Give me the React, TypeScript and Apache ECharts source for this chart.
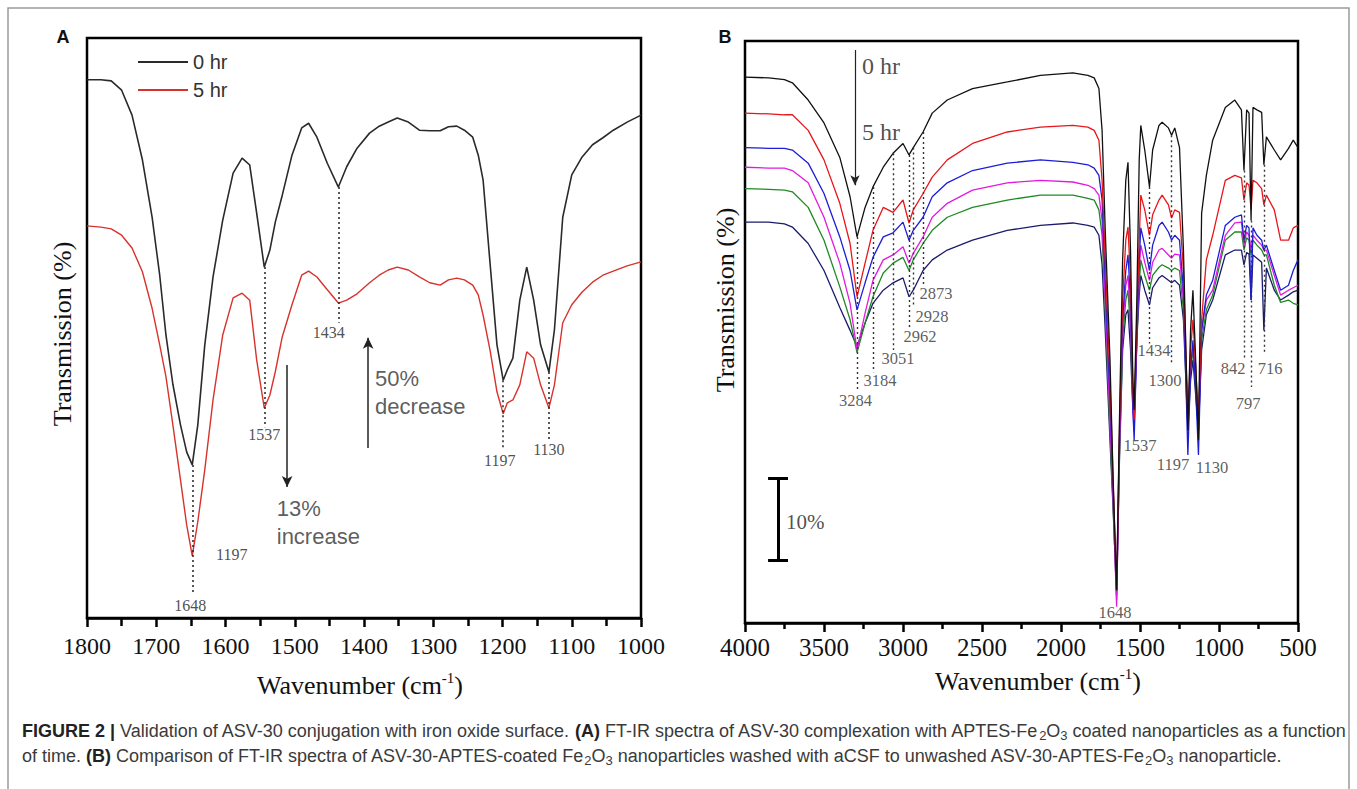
import React, { useEffect, useRef } from 'react';
import * as echarts from 'echarts';

const SERIF = '"Liberation Serif", "Times New Roman", serif';
const SANS = '"Liberation Sans", Arial, sans-serif';

// ---------------- Panel A data ----------------
const wnA = [1800, 1780, 1765, 1750, 1735, 1720, 1706, 1695, 1686, 1676,
  1665, 1656, 1648, 1640, 1630, 1618, 1604, 1589, 1576, 1565,
  1555, 1544, 1536, 1528, 1518, 1504, 1490, 1480, 1468, 1453,
  1437, 1425, 1410, 1392, 1378, 1365, 1352, 1336, 1320, 1305,
  1290, 1278, 1266, 1255, 1243, 1235, 1228, 1218, 1208, 1199,
  1193, 1185, 1175, 1165, 1155, 1145, 1133, 1125, 1113, 1100,
  1085, 1070, 1055, 1040, 1020, 1000];
const hr0A = [92.8, 92.8, 92.6, 91.0, 86.7, 79.0, 69.1, 59.1, 48.8, 40.3,
  33.3, 28.6, 26.4, 33.3, 47.0, 58.8, 68.6, 76.7, 79.3, 78.1,
  69.8, 60.5, 63.4, 68.3, 72.9, 79.8, 84.5, 85.3, 82.9, 78.4,
  74.3, 77.8, 81.0, 83.6, 84.8, 85.5, 86.2, 85.5, 84.1, 84.0,
  84.0, 84.7, 84.8, 84.1, 82.9, 79.8, 75.5, 61.2, 47.1, 41.0,
  42.8, 44.8, 54.8, 60.5, 54.8, 47.1, 42.4, 49.7, 69.1, 76.4,
  79.5, 81.6, 82.8, 84.1, 85.5, 86.7];
const hr5A = [67.6, 67.4, 67.1, 66.0, 63.8, 59.7, 53.4, 47.1, 41.6, 33.3,
  23.8, 16.0, 10.7, 16.6, 25.5, 37.6, 48.8, 55.2, 56.0, 54.8,
  44.5, 36.2, 38.4, 42.5, 48.5, 54.0, 59.1, 59.8, 58.8, 56.6,
  54.3, 54.8, 55.9, 57.8, 59.1, 60.0, 60.5, 60.0, 58.8, 57.8,
  57.4, 58.3, 58.6, 58.3, 57.4, 55.7, 52.2, 46.2, 39.0, 35.2,
  37.1, 37.6, 40.2, 45.9, 44.8, 40.2, 36.2, 40.2, 50.9, 54.0,
  56.2, 57.9, 59.1, 59.8, 60.7, 61.4];

// peak marks: [wavenumber, top, bottom]
const peakLinesA = [[1648, 26.4, 4.3], [1544, 60.5, 32.9], [1437, 74.3, 50.9], [1199, 41.0, 29.3], [1133, 42.4, 30.7]];
// peak labels: [text, wavenumber, level]
const peakLabelsA: [string, number, number][] = [
  ['1648', 1651, 2.2], ['1197', 1591, 11.0], ['1537', 1544, 31.6],
  ['1434', 1451, 49.3], ['1197', 1204, 27.2], ['1130', 1133, 29.0]];
// arrows: [wavenumber, from, to]
const arrowsA = [[1511, 43.6, 22.6], [1394, 29.3, 48.3]];
const notesA: [string, number, number][] = [['13%\nincrease', 1526, 16.4], ['50%\ndecrease', 1384, 38.8]];

// ---------------- Panel B data ----------------
const wnB = [4000, 3850, 3750, 3700, 3600, 3500, 3400, 3335, 3291, 3240,
  3190, 3125, 3063, 3000, 2962, 2935, 2873, 2815, 2720, 2560,
  2340, 2130, 1925, 1830, 1790, 1760, 1740, 1720, 1690, 1670,
  1648, 1630, 1610, 1590, 1576, 1560, 1545, 1537, 1520, 1505,
  1495, 1470, 1440, 1420, 1380, 1360, 1320, 1300, 1280, 1250,
  1225, 1197, 1180, 1165, 1150, 1130, 1110, 1080, 1040, 960,
  900, 858, 842, 825, 810, 797, 785, 760, 730, 716,
  700, 650, 610, 560, 530, 500];
const blackB = [66.6, 66.5, 66.3, 65.9, 63.8, 61.0, 56.8, 52.0, 47.1, 50.7,
  53.2, 55.6, 57.3, 58.5, 57.1, 58.0, 59.9, 62.2, 63.8, 65.2,
  66.0, 66.8, 67.1, 66.8, 66.5, 65.2, 60.1, 47.9, 32.1, 17.4,
  4.0, 24.8, 44.3, 54.0, 56.2, 45.5, 29.6, 26.0, 39.4, 56.5,
  60.7, 57.7, 53.2, 57.7, 60.7, 61.1, 60.4, 59.5, 60.4, 58.0,
  45.5, 23.5, 35.7, 40.6, 33.3, 22.3, 50.0, 54.6, 58.9, 62.9,
  63.8, 62.6, 55.2, 62.6, 62.2, 49.1, 62.9, 62.6, 62.3, 55.9,
  59.3, 57.7, 56.5, 57.9, 58.9, 58.0];
const redB = [62.2, 62.1, 62.0, 62.0, 60.1, 56.5, 51.2, 46.3, 39.8, 43.9,
  47.9, 50.7, 50.1, 51.6, 48.8, 50.4, 52.4, 54.4, 56.5, 58.5,
  59.9, 60.5, 60.7, 60.5, 60.1, 58.9, 54.0, 44.3, 29.6, 17.4,
  4.0, 23.5, 39.4, 46.7, 48.3, 41.8, 28.4, 24.8, 37.0, 46.7,
  52.2, 50.4, 47.3, 49.8, 51.6, 52.2, 51.0, 49.4, 50.4, 50.1,
  43.0, 24.8, 33.3, 37.0, 32.1, 24.8, 37.0, 44.3, 47.3, 54.0,
  54.6, 54.3, 51.6, 53.7, 53.4, 50.4, 54.0, 53.7, 53.0, 51.0,
  52.2, 50.4, 46.7, 46.7, 48.2, 48.5];
const blueB = [58.0, 57.9, 57.9, 57.7, 56.1, 52.4, 47.1, 43.0, 38.2, 41.5,
  44.6, 47.1, 47.6, 48.9, 46.7, 47.9, 49.5, 52.0, 53.7, 55.2,
  56.1, 56.5, 56.2, 55.9, 55.5, 54.6, 51.6, 41.8, 27.2, 16.2,
  4.0, 22.3, 37.0, 43.0, 44.9, 39.4, 26.0, 22.3, 34.5, 44.3,
  48.2, 46.1, 43.0, 46.1, 48.5, 48.9, 47.7, 46.7, 47.3, 46.7,
  40.6, 20.5, 30.9, 34.5, 29.6, 20.5, 35.7, 40.0, 41.8, 48.5,
  49.5, 49.8, 46.7, 48.5, 48.2, 39.4, 48.2, 47.3, 46.7, 45.5,
  46.1, 43.0, 40.6, 41.2, 43.0, 44.3];
const magentaB = [55.6, 55.5, 55.5, 55.2, 53.7, 49.5, 43.9, 39.0, 33.3, 37.8,
  41.8, 44.3, 44.9, 45.9, 43.9, 45.1, 47.1, 49.5, 51.2, 52.8,
  53.7, 54.0, 53.8, 53.4, 53.0, 52.2, 49.1, 39.4, 24.8, 15.0,
  2.0, 21.1, 35.7, 41.2, 42.4, 37.0, 26.0, 23.3, 34.5, 43.0,
  46.1, 44.0, 41.8, 44.0, 45.5, 45.7, 44.9, 44.5, 45.0, 44.9,
  39.4, 24.8, 31.5, 33.9, 30.2, 23.5, 35.7, 39.4, 40.6, 47.3,
  48.8, 48.9, 46.1, 47.7, 47.3, 45.5, 47.3, 46.7, 46.1, 45.5,
  45.5, 42.4, 40.0, 40.6, 40.9, 41.2];
const greenB = [53.0, 52.9, 52.8, 52.6, 50.7, 46.7, 41.0, 37.0, 33.0, 36.6,
  39.8, 42.7, 43.9, 44.6, 43.0, 44.3, 46.3, 47.9, 49.5, 50.7,
  51.6, 52.2, 52.2, 51.8, 51.6, 50.4, 47.3, 38.2, 23.5, 14.4,
  2.8, 20.5, 34.5, 39.4, 40.6, 35.7, 27.2, 26.0, 35.1, 41.2,
  44.3, 42.4, 40.6, 42.4, 43.4, 43.7, 43.3, 43.0, 43.3, 43.0,
  38.2, 25.4, 30.9, 33.3, 29.6, 25.4, 34.5, 38.2, 40.0, 46.7,
  47.7, 47.7, 45.5, 47.0, 46.7, 44.9, 46.7, 46.1, 45.5, 44.9,
  44.9, 41.2, 39.1, 39.4, 39.0, 38.8];
const navyB = [48.9, 48.9, 48.7, 48.3, 46.3, 43.0, 38.5, 35.7, 33.7, 36.6,
  39.0, 40.6, 41.5, 42.1, 39.8, 40.6, 43.0, 44.3, 45.5, 46.7,
  47.9, 48.5, 48.8, 48.5, 48.3, 47.3, 43.7, 35.7, 22.3, 13.8,
  3.4, 19.9, 33.3, 37.6, 38.2, 33.3, 26.0, 24.8, 34.5, 40.0,
  42.4, 40.6, 38.8, 40.9, 42.1, 42.4, 41.8, 41.5, 41.8, 41.2,
  37.0, 23.5, 29.6, 32.1, 28.4, 23.5, 33.3, 37.6, 39.4, 44.9,
  45.5, 45.5, 43.7, 45.2, 45.0, 39.4, 44.9, 44.5, 44.0, 35.7,
  43.3, 40.6, 39.4, 40.0, 40.4, 40.6];

const peakLinesB = [[3291, 47.1, 28.4], [3190, 53.2, 30.6], [3063, 57.3, 33.3], [2962, 57.1, 36.0],
  [2935, 58.0, 38.5], [2873, 59.9, 41.2], [1440, 53.2, 34.1], [1300, 59.5, 31.7],
  [842, 55.2, 32.4], [797, 49.1, 28.8], [716, 55.9, 32.9]];
const peakLabelsB: [string, number, number][] = [
  ['3284', 3300, 27.2], ['3184', 3146, 29.6], ['3051', 3032, 32.3], ['2962', 2892, 34.9],
  ['2928', 2816, 37.4], ['2873', 2791, 40.2], ['1434', 1411, 33.3], ['1300', 1342, 29.6],
  ['842', 911, 31.1], ['797', 816, 26.8], ['716', 677, 31.1], ['1537', 1500, 21.7],
  ['1197', 1291, 19.3], ['1130', 1044, 19.0], ['1648', 1658, 1.3]];
const timeArrowB = [3304, 69.9, 53.4];
const timeNotesB: [string, number, number][] = [['0 hr', 3259, 68.0], ['5 hr', 3259, 59.9]];
const scaleBarB = { wn: 3791, from: 7.6, to: 17.6, capLeft: 3854, capRight: 3728 };
const scaleNoteB: [string, number, number] = ['10%', 3741, 12.3];

const seriesB = [
  { name: 'washed 5', values: navyB, color: '#1b1b6e' },
  { name: 'washed 4', values: greenB, color: '#1f8a24' },
  { name: 'washed 3', values: magentaB, color: '#e21ae0' },
  { name: 'washed 2', values: blueB, color: '#1d1dd8' },
  { name: 'washed 1', values: redB, color: '#e8161b' },
  { name: 'unwashed', values: blackB, color: '#111111' },
];

const captionLine1 = '{b|FIGURE 2 |} Validation of ASV-30 conjugation with iron oxide surface. {b|(A)} FT-IR spectra of ASV-30 complexation with APTES-Fe{s|2}O{s|3} coated nanoparticles as a function';
const captionLine2 = 'of time. {b|(B)} Comparison of FT-IR spectra of ASV-30-APTES-coated Fe{s|2}O{s|3} nanoparticles washed with aCSF to unwashed ASV-30-APTES-Fe{s|2}O{s|3} nanoparticle.';

function xAxisBase(grid: number, min: number, max: number, interval: number, fontSize: number, margin: number, minorLen: number) {
  return {
    gridIndex: grid, type: 'value', min, max, interval, inverse: true,
    axisLine: { show: true, onZero: false, lineStyle: { color: '#000', width: 2.5 } },
    axisTick: { show: true, inside: false, length: 9, lineStyle: { color: '#000', width: 2.5 } },
    minorTick: { show: true, splitNumber: 2, length: minorLen, lineStyle: { color: '#000', width: 2.5 } },
    splitLine: { show: false }, minorSplitLine: { show: false },
    axisLabel: { margin, fontFamily: SERIF, fontSize, color: '#111', formatter: (v: number) => String(v) },
  };
}

function dottedLines(lines: number[][]) {
  return lines.map(([w, a, b]) => [{ coord: [w, a] }, { coord: [w, b] }]);
}

function captionText(text: string, y: number) {
  return {
    type: 'text', x: 22, y, style: {
      text, fontFamily: SANS, fontSize: 18, fill: '#3a3a3a', align: 'left', verticalAlign: 'middle',
      rich: {
        b: { fontFamily: SANS, fontSize: 18, fontWeight: 'bold', fill: '#222' },
        s: { fontFamily: SANS, fontSize: 13, fill: '#3a3a3a', padding: [9, 0, 0, 0] },
      },
    },
  };
}

function buildOption() {
  const labelItems = (arr: [string, number, number][], extra: any = {}) =>
    arr.map(([t, w, v]) => ({ name: t, value: [w, v], label: { ...extra } }));

  return {
    animation: false,
    backgroundColor: '#fff',
    grid: [
      { left: 87, top: 38, width: 554, height: 580, show: true, borderColor: '#000', borderWidth: 2.5, backgroundColor: 'transparent' },
      { left: 745, top: 41, width: 553, height: 582, show: true, borderColor: '#000', borderWidth: 2.5, backgroundColor: 'transparent' },
    ],
    xAxis: [
      xAxisBase(0, 1000, 1800, 100, 24, 16, 8),
      xAxisBase(1, 500, 4000, 500, 25, 12, 6),
    ],
    yAxis: [
      { gridIndex: 0, type: 'value', min: 0, max: 100, show: false },
      { gridIndex: 1, type: 'value', min: 0, max: 71, show: false },
    ],
    legend: {
      data: ['0 hr', '5 hr'], orient: 'vertical', left: 138, top: 52, padding: 0,
      itemWidth: 50, itemHeight: 2, itemGap: 8, icon: 'rect', selectedMode: false,
      textStyle: { fontFamily: SANS, fontSize: 20, color: '#333', lineHeight: 20 },
    },
    series: [
      {
        name: '0 hr', type: 'line', xAxisIndex: 0, yAxisIndex: 0, showSymbol: false, symbol: 'none',
        silent: true, color: '#2a2a2a', lineStyle: { color: '#2a2a2a', width: 1.6 },
        data: wnA.map((w, i) => [w, hr0A[i]]),
      },
      {
        name: '5 hr', type: 'line', xAxisIndex: 0, yAxisIndex: 0, showSymbol: false, symbol: 'none',
        silent: true, color: '#d8322d', lineStyle: { color: '#d8322d', width: 1.4 },
        data: wnA.map((w, i) => [w, hr5A[i]]),
      },
      ...seriesB.map((s) => ({
        name: s.name, type: 'line', xAxisIndex: 1, yAxisIndex: 1, showSymbol: false, symbol: 'none',
        silent: true, color: s.color, lineStyle: { color: s.color, width: 1.3 },
        data: wnB.map((w, i) => [w, s.values[i]]),
      })),
      // Panel A annotations
      {
        name: 'annA', type: 'scatter', xAxisIndex: 0, yAxisIndex: 0, symbolSize: 2, silent: true, z: 5,
        itemStyle: { color: 'rgba(0,0,0,0)' },
        label: { show: true, position: 'inside', formatter: '{b}', fontFamily: SERIF, fontSize: 16, color: '#222' },
        data: [
          ...labelItems(peakLabelsA),
          ...labelItems(notesA, { align: 'left', fontFamily: SANS, fontSize: 22, lineHeight: 28, color: '#333' }),
        ],
        markLine: {
          silent: true, symbol: 'none', symbolSize: [8, 11], label: { show: false },
          lineStyle: { type: [2, 3], color: '#222', width: 1.5 },
          data: [
            ...dottedLines(peakLinesA),
            ...arrowsA.map(([w, a, b]) => [
              { coord: [w, a], symbol: 'none', lineStyle: { type: 'solid', color: '#222', width: 1.5 } },
              { coord: [w, b], symbol: 'arrow' },
            ]),
          ],
        },
      },
      // Panel B annotations
      {
        name: 'annB', type: 'scatter', xAxisIndex: 1, yAxisIndex: 1, symbolSize: 2, silent: true, z: 5,
        itemStyle: { color: 'rgba(0,0,0,0)' },
        label: { show: true, position: 'inside', formatter: '{b}', fontFamily: SERIF, fontSize: 16.5, color: '#333' },
        data: [
          ...labelItems(peakLabelsB),
          ...labelItems(timeNotesB, { align: 'left', fontSize: 24, color: '#222' }),
          ...labelItems([scaleNoteB], { align: 'left', fontSize: 21, color: '#222' }),
        ],
        markLine: {
          silent: true, symbol: 'none', symbolSize: [7, 10], label: { show: false },
          lineStyle: { type: [2, 3], color: '#333', width: 1.4 },
          data: [
            ...dottedLines(peakLinesB),
            [
              { coord: [timeArrowB[0], timeArrowB[1]], symbol: 'none', lineStyle: { type: 'solid', color: '#222', width: 1.2 } },
              { coord: [timeArrowB[0], timeArrowB[2]], symbol: 'arrow' },
            ],
            [
              { coord: [scaleBarB.wn, scaleBarB.from], lineStyle: { type: 'solid', color: '#000', width: 3 } },
              { coord: [scaleBarB.wn, scaleBarB.to] },
            ],
            [
              { coord: [scaleBarB.capLeft, scaleBarB.from], lineStyle: { type: 'solid', color: '#000', width: 3 } },
              { coord: [scaleBarB.capRight, scaleBarB.from] },
            ],
            [
              { coord: [scaleBarB.capLeft, scaleBarB.to], lineStyle: { type: 'solid', color: '#000', width: 3 } },
              { coord: [scaleBarB.capRight, scaleBarB.to] },
            ],
          ],
        },
      },
    ],
    graphic: [
      { type: 'rect', silent: true, shape: { x: 8, y: 8, width: 1341, height: 820 }, style: { fill: 'none', stroke: '#9a9a9a', lineWidth: 1.5 } },
      { type: 'text', x: 63, y: 37, style: { text: 'A', fontFamily: SANS, fontWeight: 'bold', fontSize: 18, fill: '#111', align: 'center', verticalAlign: 'middle' } },
      { type: 'text', x: 725, y: 37, style: { text: 'B', fontFamily: SANS, fontWeight: 'bold', fontSize: 18, fill: '#111', align: 'center', verticalAlign: 'middle' } },
      { type: 'text', x: 62, y: 334, rotation: Math.PI / 2, style: { text: 'Transmission (%)', fontFamily: SERIF, fontSize: 26, fill: '#111', align: 'center', verticalAlign: 'middle' } },
      { type: 'text', x: 725, y: 300, rotation: Math.PI / 2, style: { text: 'Transmission (%)', fontFamily: SERIF, fontSize: 26, fill: '#111', align: 'center', verticalAlign: 'middle' } },
      {
        type: 'text', x: 360, y: 685, style: {
          text: 'Wavenumber (cm{sup|-1})', fontFamily: SERIF, fontSize: 26, fill: '#111', align: 'center', verticalAlign: 'middle',
          rich: { sup: { fontFamily: SERIF, fontSize: 15, fill: '#111', padding: [0, 0, 14, 0] } },
        },
      },
      {
        type: 'text', x: 1038, y: 681, style: {
          text: 'Wavenumber (cm{sup|-1})', fontFamily: SERIF, fontSize: 26, fill: '#111', align: 'center', verticalAlign: 'middle',
          rich: { sup: { fontFamily: SERIF, fontSize: 15, fill: '#111', padding: [0, 0, 14, 0] } },
        },
      },
      captionText(captionLine1, 731),
      captionText(captionLine2, 756),
    ],
  };
}

export default function App() {
  const ref = useRef<HTMLDivElement>(null);
  useEffect(() => {
    if (!ref.current) return;
    const chart = echarts.init(ref.current, null, { renderer: 'svg' });
    chart.setOption(buildOption() as any);
    return () => chart.dispose();
  }, []);
  return (
    <div
      ref={ref}
      style={{ position: 'fixed', left: 0, top: 0, width: 1357, height: 789, background: '#fff' }}
    />
  );
}
